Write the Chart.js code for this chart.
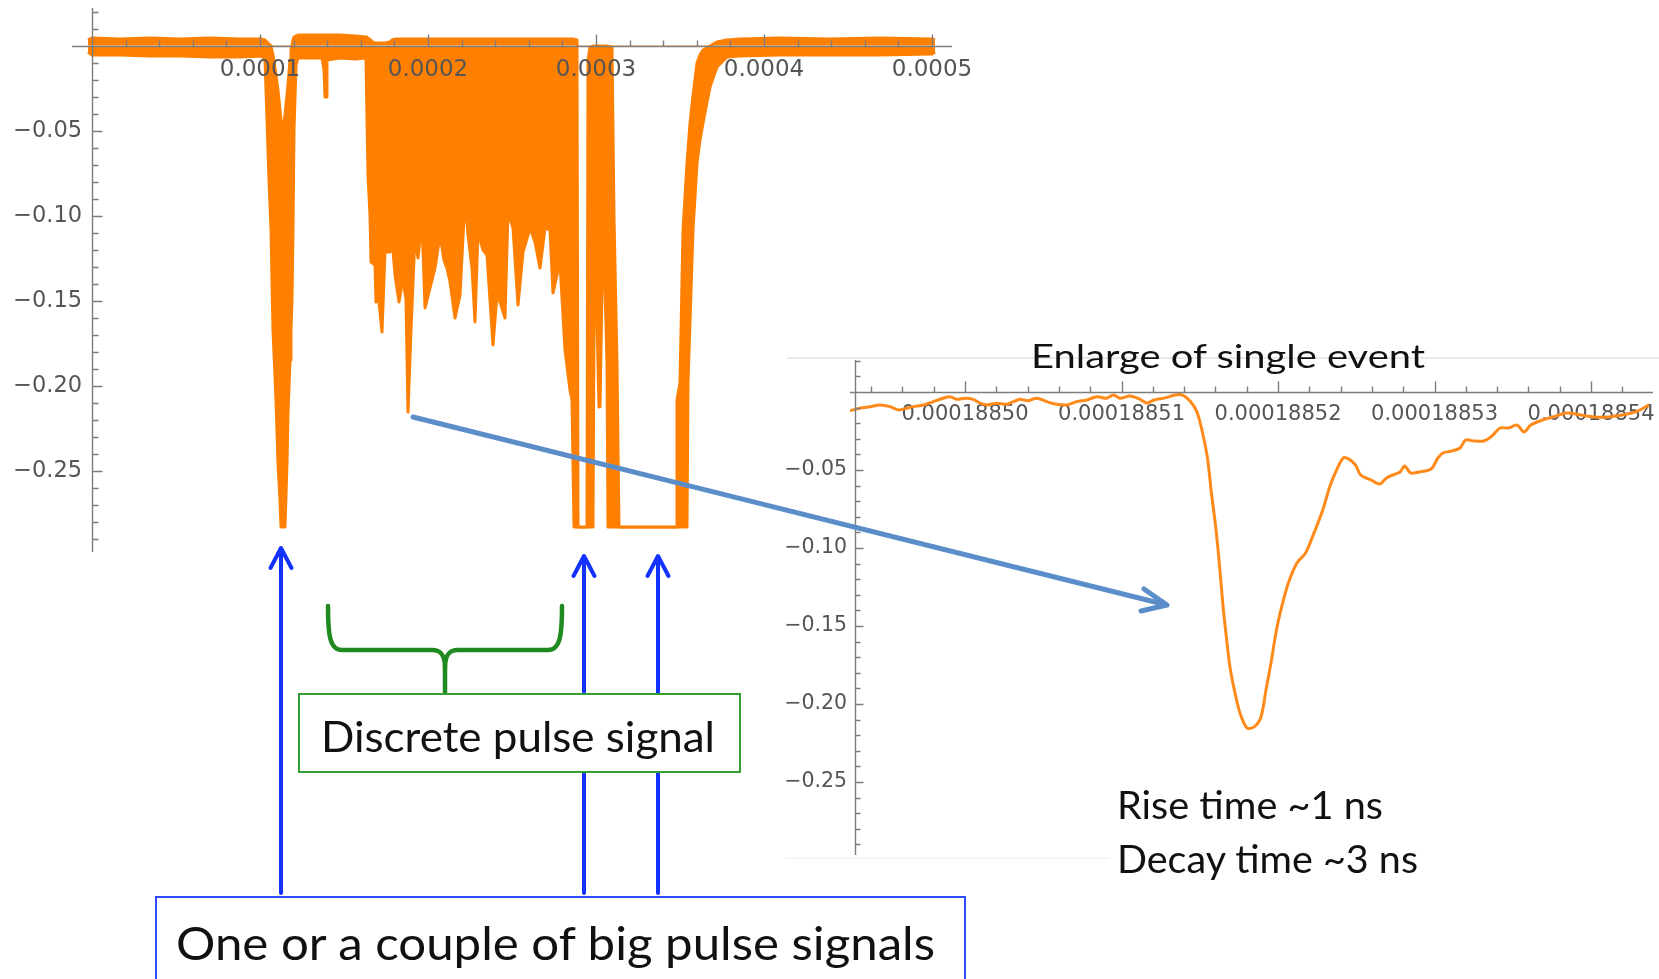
<!DOCTYPE html>
<html><head><meta charset="utf-8">
<script src="https://cdn.jsdelivr.net/npm/chart.js@4.4.1/dist/chart.umd.min.js"></script>
<style>
html,body{margin:0;padding:0;background:#fff;width:1659px;height:979px;overflow:hidden;}
#bigWrap{position:absolute;left:0;top:0;width:1000px;height:575px;}
#evWrap{position:absolute;left:780px;top:330px;width:879px;height:560px;}
#ann{position:absolute;left:0;top:0;pointer-events:none;}
#ann text{font-family:Lato,'Open Sans',sans-serif;fill:#111;}
</style></head><body>
<div id="bigWrap"><canvas id="big" width="1000" height="575"></canvas></div>
<div id="evWrap"><canvas id="ev" width="879" height="560"></canvas></div>
<svg id="ann" width="1659" height="979" viewBox="0 0 1659 979">
  <line x1="787" y1="358" x2="1659" y2="358" stroke="#d4d4d4" stroke-width="1.2"/>
  <line x1="785" y1="858" x2="1110" y2="858" stroke="#ececec" stroke-width="1"/>
  <g stroke="#1432ff" stroke-width="4" fill="none" stroke-linecap="round" stroke-linejoin="round">
    <line x1="281" y1="893" x2="281" y2="550"/>
    <polyline points="270.5,568 281,548 291.5,568"/>
    <line x1="584" y1="893" x2="584" y2="558"/>
    <polyline points="573.5,576 584,556 594.5,576"/>
    <line x1="658" y1="893" x2="658" y2="558"/>
    <polyline points="647.5,576 658,556 668.5,576"/>
  </g>
  <g stroke="#1f8a1f" stroke-width="4.5" fill="none" stroke-linecap="round" stroke-linejoin="round">
    <path d="M328 606 C328 636 330 650 342 650 L432 650 C441 650 445 655 445 668 L445 694"/>
    <path d="M562 606 C562 636 560 650 548 650 L458 650 C449 650 445 655 445 668"/>
  </g>
  <rect x="299" y="694" width="441" height="78" fill="#fff" stroke="#34a034" stroke-width="2"/>
  <text x="321" y="752" font-size="42" textLength="394" lengthAdjust="spacingAndGlyphs">Discrete pulse signal</text>
  <rect x="156" y="897" width="809" height="110" fill="#fff" stroke="#2f4bff" stroke-width="2"/>
  <text x="176" y="960" font-size="46" textLength="759" lengthAdjust="spacingAndGlyphs">One or a couple of big pulse signals</text>
  <g stroke="#5b8dc9" stroke-width="5" fill="none" stroke-linecap="round" stroke-linejoin="round">
    <line x1="413" y1="417" x2="1163" y2="604"/>
    <polyline points="1144,589 1167,605 1141,611"/>
  </g>
  <text x="1031" y="368" font-size="32" textLength="394" lengthAdjust="spacingAndGlyphs">Enlarge of single event</text>
  <text x="1117" y="819" font-size="38" textLength="266" lengthAdjust="spacingAndGlyphs">Rise time ~1 ns</text>
  <text x="1117" y="873" font-size="38" textLength="301" lengthAdjust="spacingAndGlyphs">Decay time ~3 ns</text>
</svg>
<script>
// ---------- Full trace (upper / lower envelope of the dense waveform) ----------
const bigTime = [
 -0.0238e-4, 0, 0.1667e-4, 0.3452e-4, 0.5238e-4, 0.7024e-4, 0.8810e-4, 1.0119e-4,
 1.0298e-4, 1.0417e-4, 1.0536e-4, 1.0655e-4, 1.0774e-4, 1.0952e-4, 1.1071e-4, 1.1190e-4,
 1.1250e-4, 1.1369e-4, 1.1488e-4, 1.1607e-4, 1.1667e-4, 1.1786e-4, 1.1845e-4, 1.1905e-4,
 1.1964e-4, 1.2024e-4, 1.2143e-4, 1.2262e-4, 1.2976e-4, 1.3690e-4, 1.3810e-4, 1.3869e-4,
 1.3929e-4, 1.3988e-4, 1.4762e-4, 1.5655e-4, 1.6310e-4, 1.6369e-4, 1.6429e-4, 1.6548e-4,
 1.6607e-4, 1.6845e-4, 1.6905e-4, 1.7024e-4, 1.7262e-4, 1.7440e-4, 1.7738e-4, 1.7857e-4,
 1.8036e-4, 1.8274e-4, 1.8512e-4, 1.8690e-4, 1.8810e-4, 1.8869e-4, 1.8988e-4, 1.9226e-4,
 1.9405e-4, 1.9643e-4, 1.9821e-4, 2.0119e-4, 2.0417e-4, 2.0714e-4, 2.0952e-4, 2.1131e-4,
 2.1310e-4, 2.1607e-4, 2.1905e-4, 2.2202e-4, 2.2381e-4, 2.2619e-4, 2.2798e-4, 2.2976e-4,
 2.3274e-4, 2.3512e-4, 2.3869e-4, 2.4107e-4, 2.4286e-4, 2.4583e-4, 2.4762e-4, 2.5060e-4,
 2.5357e-4, 2.5655e-4, 2.6071e-4, 2.6369e-4, 2.6667e-4, 2.6964e-4, 2.7262e-4, 2.7440e-4,
 2.7738e-4, 2.7857e-4, 2.8155e-4, 2.8452e-4, 2.8571e-4, 2.8690e-4, 2.8869e-4, 2.8929e-4,
 2.9464e-4, 2.9524e-4, 2.9643e-4, 2.9821e-4, 2.9881e-4, 3.0060e-4, 3.0179e-4, 3.0238e-4,
 3.0357e-4, 3.0536e-4, 3.0655e-4, 3.0714e-4, 3.0952e-4, 3.1071e-4, 3.1250e-4, 3.1310e-4,
 3.1369e-4, 3.4762e-4, 3.4821e-4, 3.5000e-4, 3.5179e-4, 3.5417e-4, 3.5476e-4, 3.5595e-4,
 3.5774e-4, 3.6012e-4, 3.6190e-4, 3.6369e-4, 3.6786e-4, 3.7202e-4, 3.7798e-4, 3.8571e-4,
 4.0952e-4, 4.3929e-4, 4.6905e-4, 5.0000e-4, 5.0179e-4
];
const bigUpper = [
 0.0034, 0.0045, 0.0039, 0.0045, 0.0039, 0.0045, 0.0039, 0.0039,
 0.0034, 0.0022, 0.0010, -0.0002, -0.0055, -0.0172, -0.0261, -0.0378,
 -0.0437, -0.0496, -0.0408, -0.0290, -0.0231, -0.0084, -0.0025, 0.0004,
 0.0034, 0.0051, 0.0057, 0.0063, 0.0063, 0.0063, 0.0063, 0.0063,
 0.0063, 0.0063, 0.0063, 0.0057, 0.0051, 0.0045, 0.0045, 0.0034,
 0.0028, 0.0016, 0.0016, 0.0016, 0.0016, 0.0016, 0.0022, 0.0034,
 0.0039, 0.0039, 0.0039, 0.0039, 0.0039, 0.0039, 0.0039, 0.0039,
 0.0039, 0.0039, 0.0039, 0.0039, 0.0039, 0.0039, 0.0039, 0.0039,
 0.0039, 0.0039, 0.0039, 0.0039, 0.0039, 0.0039, 0.0039, 0.0039,
 0.0039, 0.0039, 0.0039, 0.0039, 0.0039, 0.0039, 0.0039, 0.0039,
 0.0039, 0.0039, 0.0039, 0.0039, 0.0039, 0.0039, 0.0039, 0.0039,
 0.0039, 0.0039, 0.0039, 0.0039, 0.0039, 0.0039, 0.0034, -0.2831,
 -0.2831, -0.0084, -0.0008, -0.0002, -0.0002, -0.0002, -0.0002, -0.0002,
 -0.0002, -0.0002, -0.0002, -0.0002, -0.0008, -0.1008, -0.1866, -0.2378,
 -0.2831, -0.2831, -0.2084, -0.1984, -0.1084, -0.0690, -0.0614, -0.0455,
 -0.0290, -0.0102, -0.0055, -0.0025, -0.0002, 0.0022, 0.0034, 0.0039,
 0.0045, 0.0039, 0.0045, 0.0039, 0.0034
];
const bigLower = [
 -0.0037, -0.0055, -0.0055, -0.0061, -0.0061, -0.0066, -0.0066, -0.0061,
 -0.0084, -0.0437, -0.0790, -0.1084, -0.1672, -0.2084, -0.2455, -0.2672,
 -0.2831, -0.2831, -0.2831, -0.2455, -0.2161, -0.1849, -0.1672, -0.1496,
 -0.1084, -0.0496, -0.0114, -0.0072, -0.0072, -0.0072, -0.0143, -0.0302,
 -0.0302, -0.0084, -0.0072, -0.0078, -0.0072, -0.0437, -0.0761, -0.0996,
 -0.1272, -0.1290, -0.1508, -0.1449, -0.1684, -0.1214, -0.1214, -0.1131,
 -0.1349, -0.1508, -0.1366, -0.1496, -0.2155, -0.2155, -0.1672, -0.1114,
 -0.1249, -0.1037, -0.1543, -0.1425, -0.1308, -0.1114, -0.1261, -0.1308,
 -0.1390, -0.1602, -0.1467, -0.0896, -0.1114, -0.1308, -0.1625, -0.1096,
 -0.1202, -0.1231, -0.1760, -0.1467, -0.1508, -0.1602, -0.0978, -0.1072,
 -0.1525, -0.1214, -0.1072, -0.1155, -0.1308, -0.1072, -0.1084, -0.1455,
 -0.1319, -0.1278, -0.1790, -0.2025, -0.2084, -0.2831, -0.2831, -0.2831,
 -0.2831, -0.2831, -0.2831, -0.2831, -0.1631, -0.1631, -0.2125, -0.2125,
 -0.1437, -0.1419, -0.1866, -0.2831, -0.2831, -0.2831, -0.2831, -0.2831,
 -0.2831, -0.2831, -0.2831, -0.2831, -0.2831, -0.2831, -0.1984, -0.1625,
 -0.1084, -0.0690, -0.0555, -0.0455, -0.0243, -0.0125, -0.0066, -0.0061,
 -0.0055, -0.0055, -0.0055, -0.0049, -0.0037
];
const bigXTicks = [0.0001, 0.0002, 0.0003, 0.0004, 0.0005];
const bigXTickLabels = ['0.0001', '0.0002', '0.0003', '0.0004', '0.0005'];

// ---------- Enlarged single event ----------
const eventTime = [
 0.00018849265, 0.00018849329, 0.00018849393, 0.00018849457, 0.00018849521, 0.00018849574,
 0.00018849627, 0.00018849670, 0.00018849734, 0.00018849797, 0.00018849861, 0.00018849904,
 0.00018849947, 0.00018850000, 0.00018850053, 0.00018850096, 0.00018850139, 0.00018850203,
 0.00018850266, 0.00018850309, 0.00018850351, 0.00018850404, 0.00018850458, 0.00018850522,
 0.00018850586, 0.00018850650, 0.00018850714, 0.00018850778, 0.00018850842, 0.00018850905,
 0.00018850948, 0.00018850990, 0.00018851054, 0.00018851118, 0.00018851163, 0.00018851208,
 0.00018851278, 0.00018851342, 0.00018851387, 0.00018851438, 0.00018851482, 0.00018851518,
 0.00018851551, 0.00018851572, 0.00018851604, 0.00018851627, 0.00018851649, 0.00018851672,
 0.00018851693, 0.00018851725, 0.00018851757, 0.00018851802, 0.00018851847, 0.00018851891,
 0.00018851923, 0.00018851955, 0.00018851990, 0.00018852023, 0.00018852066, 0.00018852121,
 0.00018852176, 0.00018852220, 0.00018852286, 0.00018852330, 0.00018852374, 0.00018852418,
 0.00018852451, 0.00018852495, 0.00018852528, 0.00018852594, 0.00018852649, 0.00018852693,
 0.00018852748, 0.00018852780, 0.00018852809, 0.00018852847, 0.00018852901, 0.00018852978,
 0.00018853022, 0.00018853054, 0.00018853110, 0.00018853163, 0.00018853198, 0.00018853252,
 0.00018853316, 0.00018853361, 0.00018853419, 0.00018853472, 0.00018853527, 0.00018853572,
 0.00018853615, 0.00018853693, 0.00018853757, 0.00018853847, 0.00018853934, 0.00018854019,
 0.00018854109, 0.00018854198, 0.00018854285, 0.00018854371
];
const eventSignal = [
 -0.0120, -0.0104, -0.0094, -0.0083, -0.0094, -0.0115,
 -0.0104, -0.0094, -0.0083, -0.0062, -0.0040, -0.0030,
 -0.0047, -0.0040, -0.0047, -0.0072, -0.0083, -0.0072,
 -0.0079, -0.0062, -0.0047, -0.0056, -0.0040, -0.0062,
 -0.0079, -0.0083, -0.0062, -0.0051, -0.0030, -0.0040,
 -0.0019, -0.0040, -0.0026, -0.0047, -0.0071, -0.0051,
 -0.0038, -0.0019, -0.0019, -0.0058, -0.0128, -0.0263,
 -0.0436, -0.0628, -0.0885, -0.1122, -0.1378, -0.1590,
 -0.1763, -0.1929, -0.2058, -0.2154, -0.2147, -0.2083,
 -0.1910, -0.1737, -0.1526, -0.1378, -0.1224, -0.1096,
 -0.1032, -0.0929, -0.0756, -0.0609, -0.0500, -0.0423,
 -0.0429, -0.0468, -0.0532, -0.0564, -0.0590, -0.0551,
 -0.0526, -0.0513, -0.0474, -0.0519, -0.0513, -0.0494,
 -0.0423, -0.0391, -0.0378, -0.0359, -0.0308, -0.0314,
 -0.0314, -0.0288, -0.0231, -0.0231, -0.0212, -0.0256,
 -0.0212, -0.0179, -0.0160, -0.0135, -0.0147, -0.0160,
 -0.0160, -0.0147, -0.0128, -0.0083
];
const eventXTicks = [0.0001885, 0.00018851, 0.00018852, 0.00018853, 0.00018854];
const eventXTickLabels = ['0.00018850', '0.00018851', '0.00018852', '0.00018853', '0.00018854'];

const yTicks = [-0.05, -0.10, -0.15, -0.20, -0.25];
const yTickLabels = ['\u22120.05', '\u22120.10', '\u22120.15', '\u22120.20', '\u22120.25'];

// ---------- styling ----------
const ORANGE = '#ff8000';
const TICK_COLOR = '#555555';
const AXIS_COLOR = '#7d7d7d';

function mathAxes(cfg) {
  return {
    id: 'mathAxes',
    afterDatasetsDraw(chart) {
      const {ctx, chartArea: a, scales: {x, y}} = chart;
      const y0 = Math.round(y.getPixelForValue(0)) + 0.5;
      const x0 = Math.round(x.getPixelForValue(cfg.yAxisAt)) + 0.5;
      ctx.save();
      ctx.strokeStyle = AXIS_COLOR;
      ctx.lineWidth = 1.4;
      ctx.beginPath();
      ctx.moveTo(a.left, y0); ctx.lineTo(a.right, y0);
      ctx.moveTo(x0, a.top); ctx.lineTo(x0, a.bottom);
      for (let k = cfg.xk[0]; k <= cfg.xk[1]; k++) {
        if (k === 0 && cfg.skipX0) continue;
        const px = Math.round(x.getPixelForValue(cfg.xOrigin + k * cfg.xStep)) + 0.5;
        const len = (k % 5 === 0) ? cfg.xMajor : cfg.xMinor;
        ctx.moveTo(px, y0); ctx.lineTo(px, y0 - len);
      }
      for (let k = cfg.yk[0]; k <= cfg.yk[1]; k++) {
        if (k === 0) continue;
        const py = Math.round(y.getPixelForValue(k * 0.01)) + 0.5;
        const len = (k % 5 === 0) ? cfg.yMajor : cfg.yMinor;
        ctx.moveTo(x0, py); ctx.lineTo(x0 + len, py);
      }
      ctx.stroke();
      ctx.restore();
    }
  };
}
function zeroPad(s) { s.paddingLeft = 0; s.paddingRight = 0; s.paddingTop = 0; s.paddingBottom = 0; }

Chart.defaults.animation = false;

new Chart(document.getElementById('big'), {
  type: 'line',
  data: {
    datasets: [
      { data: bigTime.map((t, i) => ({x: t, y: bigUpper[i]})), order: 0, borderColor: ORANGE, borderWidth: 3,
        pointRadius: 0, tension: 0, borderJoinStyle: 'round',
        fill: { target: 'origin', above: ORANGE, below: '#ffffff' } },
      { data: bigTime.map((t, i) => ({x: t, y: bigLower[i]})), order: 1, borderColor: ORANGE, borderWidth: 3,
        pointRadius: 0, tension: 0, borderJoinStyle: 'round',
        fill: { target: 'origin', above: ORANGE, below: ORANGE } }
    ]
  },
  options: {
    responsive: false, devicePixelRatio: 1, animation: false,
    layout: { padding: { left: 72, top: 8, right: 48, bottom: 23 } },
    plugins: { legend: { display: false }, tooltip: { enabled: false } },
    scales: {
      x: { type: 'linear', min: -0.0000119, max: 0.0005119, position: { y: 0 },
           grid: { display: false, drawTicks: false }, border: { display: false },
           afterBuildTicks: s => { s.ticks = bigXTicks.map(v => ({ value: v })); },
           afterFit: zeroPad,
           ticks: { z: 1, autoSkip: false, maxRotation: 0, padding: 10, color: TICK_COLOR,
                    font: { family: 'DejaVu Sans', size: 23 }, callback: (v, i) => bigXTickLabels[i] } },
      y: { type: 'linear', min: -0.2978, max: 0.0222, position: { x: -0.0000059 },
           grid: { display: false, drawTicks: false }, border: { display: false },
           afterBuildTicks: s => { s.ticks = yTicks.map(v => ({ value: v })); },
           afterFit: zeroPad,
           ticks: { z: 1, autoSkip: false, padding: 0, color: TICK_COLOR,
                    font: { family: 'DejaVu Sans', size: 22.5 }, callback: (v, i) => yTickLabels[i] } }
    }
  },
  plugins: [mathAxes({ yAxisAt: 0, xOrigin: 0, xStep: 0.00002, xk: [1, 25], skipX0: true,
                       yk: [-29, 2], xMajor: 12, xMinor: 6, yMajor: 10, yMinor: 6 })]
});

new Chart(document.getElementById('ev'), {
  type: 'line',
  data: {
    datasets: [
      { data: eventTime.map((t, i) => ({x: t, y: eventSignal[i]})), borderColor: '#ff8a1a', borderWidth: 3,
        pointRadius: 0, fill: false, tension: 0.3, borderJoinStyle: 'round' }
    ]
  },
  options: {
    responsive: false, devicePixelRatio: 1, animation: false,
    layout: { padding: { left: 70, top: 30, right: 6, bottom: 35 } },
    plugins: { legend: { display: false }, tooltip: { enabled: false } },
    scales: {
      x: { type: 'linear', min: 0.00018849265, max: 0.00018854396, position: { y: 0 },
           grid: { display: false, drawTicks: false }, border: { display: false },
           afterBuildTicks: s => { s.ticks = eventXTicks.map(v => ({ value: v })); },
           afterFit: zeroPad,
           ticks: { autoSkip: false, maxRotation: 0, padding: 10, color: TICK_COLOR,
                    font: { family: 'DejaVu Sans', size: 21 }, callback: (v, i) => eventXTickLabels[i] } },
      y: { type: 'linear', min: -0.2968, max: 0.0205, position: { x: 0.00018849246 },
           grid: { display: false, drawTicks: false }, border: { display: false },
           afterBuildTicks: s => { s.ticks = yTicks.map(v => ({ value: v })); },
           afterFit: zeroPad,
           ticks: { autoSkip: false, padding: 0, color: TICK_COLOR,
                    font: { family: 'DejaVu Sans', size: 20.5 }, callback: (v, i) => yTickLabels[i] } }
    }
  },
  plugins: [mathAxes({ yAxisAt: 0.00018849297, xOrigin: 0.0001885, xStep: 2e-9, xk: [-3, 21], skipX0: false,
                       yk: [-29, 2], xMajor: 11, xMinor: 6, yMajor: 8, yMinor: 5 })]
});
</script>
</body></html>
